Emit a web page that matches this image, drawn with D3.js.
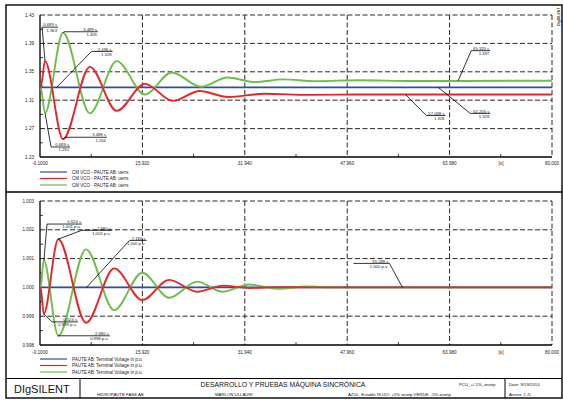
<!DOCTYPE html>
<html>
<head>
<meta charset="utf-8">
<script src="https://cdn.jsdelivr.net/npm/d3@7"></script>
<style>
  body { margin: 0; background: #fff; }
  svg { display: block; font-family: "Liberation Sans", Arial, sans-serif; }
</style>
</head>
<body>
<div id="chart"></div>
<script>
// ---- values ----
const xTicks = [-0.1, 15.92, 31.94, 47.96, 63.98, 80.0];
const xTickLabels = ['-0.1000', '15.920', '31.940', '47.960', '63.980', '80.000'];
const topYTicks = [1.23, 1.27, 1.31, 1.35, 1.39, 1.43];
const botYTicks = [0.998, 0.999, 1.000, 1.001, 1.002, 1.003];

// upper plot (CM VCO), [time s, value]
const topBlue = [[-0.1, 1.328], [80, 1.328]];
const topRed = [[-0.1, 1.328], [0, 1.328], [0.68, 1.365], [3.5, 1.255], [7.7, 1.357], [11.9, 1.295],
  [16.3, 1.333], [20.7, 1.309], [24.9, 1.323], [29.3, 1.3145], [35, 1.319], [42, 1.3175],
  [50, 1.318], [80, 1.318]];
const topGreen = [[-0.1, 1.328], [0, 1.328], [0.68, 1.292], [3.5, 1.405], [7.7, 1.2915], [11.9, 1.365],
  [16.3, 1.318], [20.5, 1.349], [25.1, 1.329], [29.2, 1.342], [33.5, 1.3355], [38, 1.3394],
  [43, 1.3368], [50, 1.3382], [58, 1.337], [80, 1.3375]];

// lower plot (terminal voltage, p.u.)
const botBlue = [[-0.1, 1.0], [80, 1.0]];
const botRed = [[-0.1, 1.0], [0, 1.0], [0.48, 0.99908], [2.76, 1.00167], [7.1, 0.99877], [11.5, 1.00066],
  [15.9, 0.99956], [20.1, 1.00026], [24.5, 0.99985], [28.6, 1.00006], [32.7, 0.99998],
  [37.5, 1.00001], [42, 1.0], [80, 1.0]];
const botGreen = [[-0.1, 1.0], [0, 1.0], [0.48, 1.00095], [2.76, 0.99832], [7.1, 1.00132], [11.5, 0.99921],
  [15.9, 1.00051], [20.1, 0.99964], [24.5, 1.0002], [28.4, 0.99985], [32.7, 1.0001],
  [37.1, 0.99995], [41.5, 1.00003], [46, 1.0], [80, 1.0]];

const topLegend = ['CM VCO - PAUTE AB: uerrs', 'CM VCO - PAUTE AB: uerrs', 'CM VCO - PAUTE AB: uerrs'];
const botLegend = ['PAUTE AB: Terminal Voltage in p.u.', 'PAUTE AB: Terminal Voltage in p.u.', 'PAUTE AB: Terminal Voltage in p.u.'];

// callouts: point on curve + the two text lines
const topCallouts = [
  { t: 0.689, v: 1.365, time: '0.689 s', val: '1.363' },
  { t: 3.489, v: 1.405, time: '3.489 s', val: '1.405' },
  { t: 2.496, v: 1.328, time: '2.496 s', val: '1.328' },
  { t: 3.488, v: 1.255, time: '3.488 s', val: '1.254' },
  { t: 0.689, v: 1.292, time: '0.689 s', val: '1.292' },
  { t: 65.320, v: 1.3375, time: '65.320 s', val: '1.337' },
  { t: 62.205, v: 1.328, time: '62.205 s', val: '1.328' },
  { t: 57.068, v: 1.318, time: '57.068 s', val: '1.318' }
];
const botCallouts = [
  { t: 0.524, v: 1.00095, time: '0.524 s', val: '1.001 p.u.' },
  { t: 2.680, v: 1.00167, time: '2.680 s', val: '1.002 p.u.' },
  { t: 7.180, v: 1.000, time: '7.180 s', val: '1.000 p.u.' },
  { t: 0.524, v: 0.99908, time: '0.524 s', val: '0.999 p.u.' },
  { t: 2.680, v: 0.99832, time: '2.680 s', val: '0.998 p.u.' },
  { t: 56.6, v: 1.000, time: '55.288 s', val: '1.000 p.u.' }
];

// ---- layout ----
const W = 563, H = 403;
const colors = { blue: '#2b4ea6', red: '#e8252a', green: '#6cc04a' };
// leader offsets in px: [dx, dy, rule length]
const topCalloutLayout = [[-3, -34, 16], [1, -1, 34], [35, -36, 21], [2, -2, 42], [6, 34, 19],
  [13, -30, 19], [32, 26, 20], [21, 21, 19]];
const botCalloutLayout = [[3, -36, 35], [24, -9, 30], [43, -47, 17], [8, 8, 26], [0, 0, 52], [-13, -24, -36]];

const svg = d3.select('#chart').append('svg')
  .attr('width', W)
  .attr('height', H)
  .attr('viewBox', [0, 0, W, H]);

svg.append('rect').attr('width', W).attr('height', H).attr('fill', '#fff');

const x = d3.scaleLinear().domain([-0.1, 80]).range([40, 552]);

function drawPanel(opts) {
  const { y, yTicks, yFmt, series, callouts, layout, legend, legendY, labelY, id } = opts;
  const g = svg.append('g');
  const [yb, yt] = y.range();

  // dashed grid
  g.append('g').selectAll('line').data(yTicks.slice(1)).join('line')
    .attr('x1', 40).attr('x2', 552)
    .attr('y1', d => y(d)).attr('y2', d => y(d))
    .attr('stroke', '#111').attr('stroke-width', 0.9).attr('stroke-dasharray', '5,2.5');
  g.append('g').selectAll('line').data(xTicks.slice(1)).join('line')
    .attr('x1', d => x(d)).attr('x2', d => x(d))
    .attr('y1', yt).attr('y2', yb)
    .attr('stroke', '#111').attr('stroke-width', 0.9).attr('stroke-dasharray', '5,2.5');

  // minor ticks
  const xMinor = d3.pairs(xTicks).map(([a, b]) => (a + b) / 2);
  g.append('g').selectAll('line').data(xMinor).join('line')
    .attr('x1', d => x(d)).attr('x2', d => x(d)).attr('y1', yb).attr('y2', yb - 3)
    .attr('stroke', '#111').attr('stroke-width', 0.8);
  const yMinor = d3.pairs(yTicks).map(([a, b]) => (a + b) / 2);
  g.append('g').selectAll('line').data(yMinor).join('line')
    .attr('x1', 40).attr('x2', 43).attr('y1', d => y(d)).attr('y2', d => y(d))
    .attr('stroke', '#111').attr('stroke-width', 0.8);

  // axes
  g.append('line').attr('x1', 40).attr('x2', 40).attr('y1', yt).attr('y2', yb)
    .attr('stroke', '#000').attr('stroke-width', 1.3);
  g.append('line').attr('x1', 40).attr('x2', 552).attr('y1', yb).attr('y2', yb)
    .attr('stroke', '#000').attr('stroke-width', 1.3);

  // tick labels
  g.append('g').selectAll('text').data(yTicks).join('text')
    .attr('x', 34).attr('y', d => y(d)).attr('dy', '0.35em')
    .attr('text-anchor', 'end').attr('font-size', 4.6).attr('fill', '#222')
    .text(yFmt);
  g.append('g').selectAll('text').data(xTicks).join('text')
    .attr('x', d => x(d)).attr('y', labelY)
    .attr('text-anchor', 'middle').attr('font-size', 4.6).attr('fill', '#222')
    .text((d, i) => xTickLabels[i]);
  g.append('text').attr('x', 501).attr('y', labelY).attr('text-anchor', 'middle')
    .attr('font-size', 4.6).attr('fill', '#222').text('[s]');

  // series (drawn blue, green, red so red ends on top)
  svg.append('clipPath').attr('id', id).append('rect')
    .attr('x', 40).attr('y', yt - 2).attr('width', 513).attr('height', yb - yt + 2);
  const line = d3.line().x(d => x(d[0])).y(d => y(d[1])).curve(d3.curveMonotoneX);
  const sg = g.append('g').attr('clip-path', `url(#${id})`);
  [series[0], series[2], series[1]].forEach(s => {
    sg.append('path').datum(s.data)
      .attr('d', line)
      .attr('fill', 'none')
      .attr('stroke', s.color)
      .attr('stroke-width', 1.9)
      .attr('stroke-linejoin', 'round');
  });

  // callouts
  const cg = g.append('g');
  callouts.forEach((c, i) => {
    const [dx, dy, len] = layout[i];
    const px = x(c.t), py = y(c.v);
    const ex = px + dx, ey = py + dy, x2 = ex + len;
    cg.append('path')
      .attr('d', `M${px},${py}L${ex},${ey}L${x2},${ey}`)
      .attr('fill', 'none').attr('stroke', '#000').attr('stroke-width', 0.8);
    const right = Math.max(ex, x2) - 1;
    cg.append('text').attr('x', right).attr('y', ey - 0.8)
      .attr('text-anchor', 'end').attr('font-size', 4.2).attr('fill', '#222').text(c.time);
    cg.append('text').attr('x', right).attr('y', ey + 4.4)
      .attr('text-anchor', 'end').attr('font-size', 4.2).attr('fill', '#222').text(c.val);
  });

  // legend, in series order: blue, red, green
  const lg = g.append('g');
  series.forEach((s, i) => {
    const ly = legendY[i];
    lg.append('line').attr('x1', 40).attr('x2', 67).attr('y1', ly).attr('y2', ly)
      .attr('stroke', s.color).attr('stroke-width', 1.2);
    lg.append('text').attr('x', 72).attr('y', ly).attr('dy', '0.35em')
      .attr('font-size', 4.5).attr('fill', '#222').text(legend[i]);
  });
}

drawPanel({
  id: 'clipTop',
  y: d3.scaleLinear().domain([1.23, 1.43]).range([157, 15]),
  yTicks: topYTicks,
  yFmt: d3.format('.2f'),
  series: [
    { data: topBlue, color: colors.blue },
    { data: topRed, color: colors.red },
    { data: topGreen, color: colors.green }
  ],
  callouts: topCallouts,
  layout: topCalloutLayout,
  legend: topLegend,
  legendY: [172, 178.5, 185],
  labelY: 164.5
});

drawPanel({
  id: 'clipBot',
  y: d3.scaleLinear().domain([0.998, 1.003]).range([345, 201]),
  yTicks: botYTicks,
  yFmt: d3.format('.3f'),
  series: [
    { data: botBlue, color: colors.blue },
    { data: botRed, color: colors.red },
    { data: botGreen, color: colors.green }
  ],
  callouts: botCallouts,
  layout: botCalloutLayout,
  legend: botLegend,
  legendY: [359, 365.5, 372],
  labelY: 353.5
});

// ---- frame and title block ----
const frame = svg.append('g').attr('fill', 'none').attr('stroke', '#000');
frame.append('rect').attr('x', 6).attr('y', 5).attr('width', 556).attr('height', 393).attr('stroke-width', 1.4);
frame.append('line').attr('x1', 6).attr('x2', 562).attr('y1', 192).attr('y2', 192).attr('stroke-width', 1.4);
frame.append('line').attr('x1', 6).attr('x2', 562).attr('y1', 378.5).attr('y2', 378.5).attr('stroke-width', 1.2);
frame.append('line').attr('x1', 80).attr('x2', 80).attr('y1', 378.5).attr('y2', 398).attr('stroke-width', 1);
frame.append('line').attr('x1', 505).attr('x2', 505).attr('y1', 378.5).attr('y2', 398).attr('stroke-width', 1);

svg.append('text').attr('transform', 'translate(560,26) rotate(-90)')
  .attr('font-size', 3.6).attr('font-weight', 'bold').attr('fill', '#333').text('DIgSILENT');

const tb = svg.append('g').attr('fill', '#111');
tb.append('text').attr('x', 14).attr('y', 393).attr('font-size', 11).text('DIgSILENT');
tb.append('text').attr('x', 283).attr('y', 387).attr('text-anchor', 'middle').attr('font-size', 6.8)
  .text('DESARROLLO Y PRUEBAS MÁQUINA SINCRÓNICA');
tb.append('text').attr('x', 97).attr('y', 395.5).attr('font-size', 4.3).text('HIDROPAUTE FASE AB');
tb.append('text').attr('x', 215).attr('y', 395.5).attr('font-size', 4.3).text('MARLON ULLAURI');
tb.append('text').attr('x', 348).attr('y', 395.5).attr('font-size', 4.3)
  .text('AZUL: Estable  ROJO: +5% wsetp  VERDE: -5% wsetp');
tb.append('text').attr('x', 459).attr('y', 385.5).attr('font-size', 4.3).text('PCU_+/-1%_wsetp');
tb.append('text').attr('x', 509).attr('y', 385.5).attr('font-size', 4.3).text('Date:  9/19/2014');
tb.append('text').attr('x', 509).attr('y', 395.5).attr('font-size', 4.3).text('Annex:  1 /5');
</script>
</body>
</html>
